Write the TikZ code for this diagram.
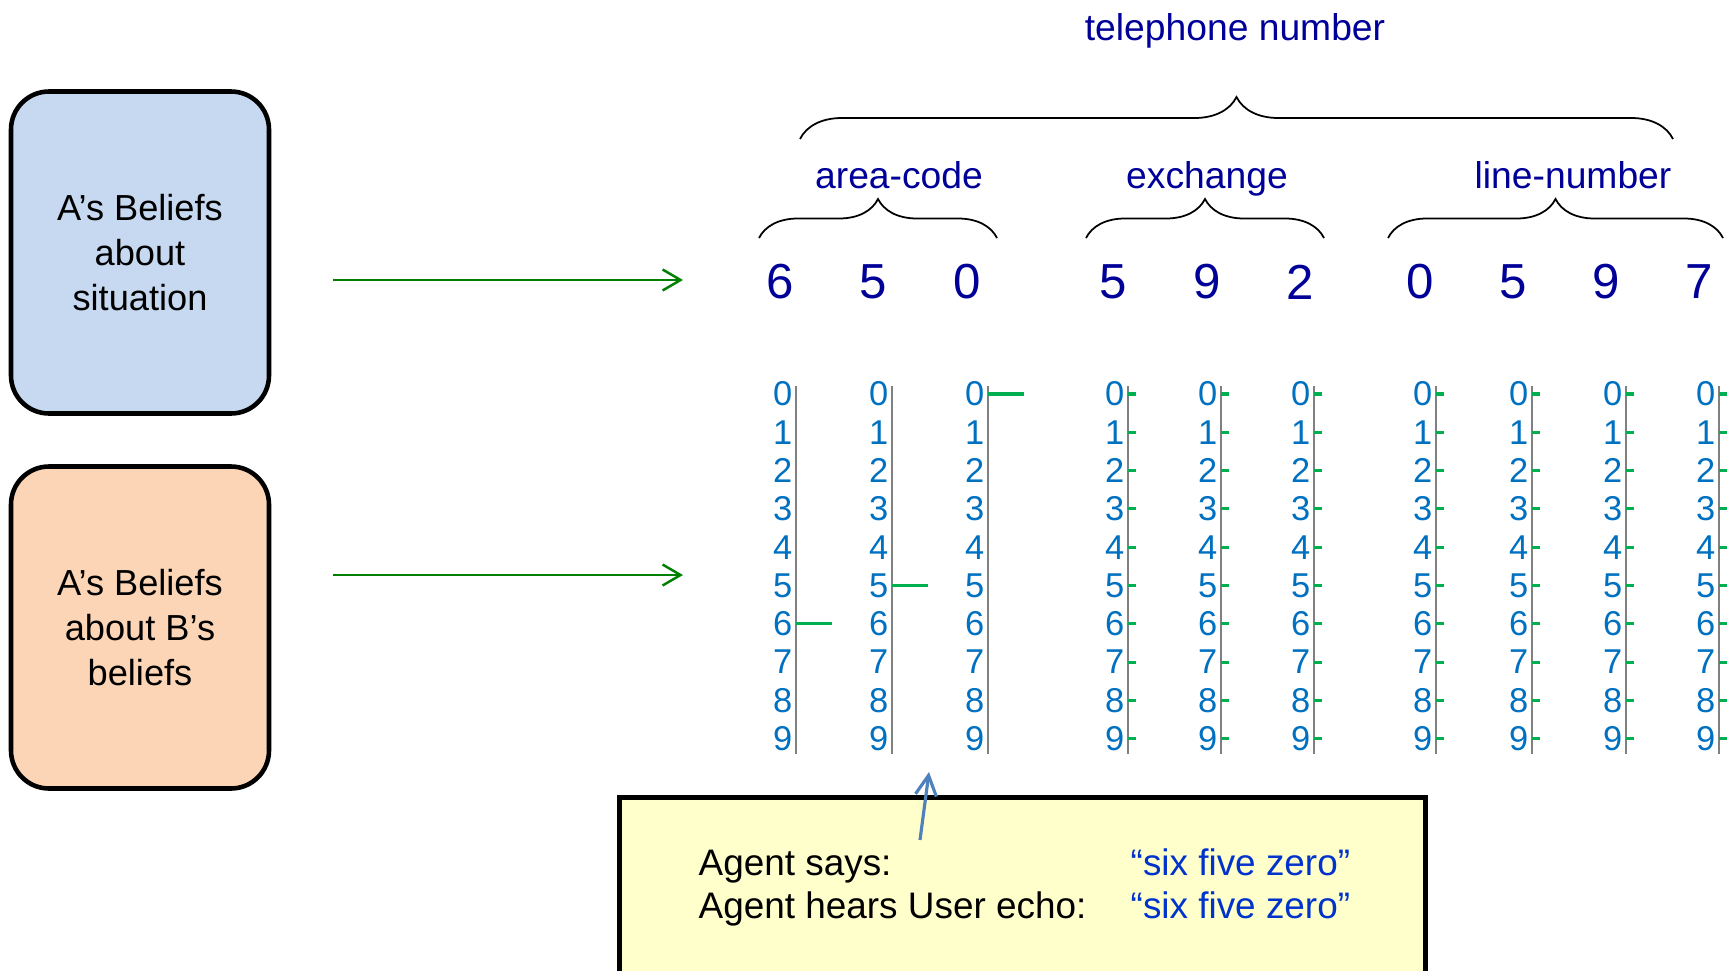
\documentclass[tikz,border=0pt]{standalone}
\usepackage{fontspec}
\setmainfont{Liberation Sans}
\usetikzlibrary{arrows.meta,positioning,decorations.pathreplacing}
\definecolor{sitblue}{RGB}{198,217,240}
\definecolor{peach}{RGB}{251,213,181}
\definecolor{navy}{RGB}{0,0,153}
\definecolor{digitblue}{RGB}{0,112,192}
\definecolor{tickgreen}{RGB}{0,176,80}
\definecolor{arrowgreen}{RGB}{0,128,0}
\definecolor{rulegray}{gray}{0.5}
\definecolor{notefill}{RGB}{255,255,204}
\definecolor{quoteblue}{RGB}{0,51,204}
\definecolor{pointblue}{RGB}{79,129,189}
\tikzset{
  belief/.style={
    rectangle, rounded corners=0.38cm, draw=black, line width=1.3pt,
    minimum width=2.58cm, minimum height=3.22cm,
    align=center, font=\fontsize{10.3}{12.8}\selectfont
  },
  grouplabel/.style={text=navy, font=\fontsize{10.6}{12}\selectfont, inner sep=0pt, anchor=base},
  bigdigit/.style={text=navy, font=\fontsize{14}{16}\selectfont, inner sep=0pt},
  coldigit/.style={text=digitblue, font=\fontsize{9.8}{11}\selectfont, inner sep=0pt, anchor=east},
  digitrule/.style={draw=rulegray, line width=0.6pt},
  pick/.style={draw=tickgreen, line width=0.9pt},
  grouping/.style={decorate, decoration={brace, amplitude=#1}, line width=0.5pt},
  grouping/.default=0.39cm,
  notebox/.style={rectangle, draw=black, fill=notefill, line width=1.4pt},
  notetext/.style={font=\fontsize{10.5}{12}\selectfont, inner sep=0pt, anchor=base west},
  feed/.style={-{Straight Barb[length=1.8mm, width=2.1mm]}, draw=arrowgreen, line width=0.7pt},
  pointer/.style={-{Straight Barb[length=2mm, width=2.1mm]}, draw=pointblue, line width=0.9pt}
}

\begin{document}
\begin{tikzpicture}
  \clip (0,0) rectangle (17.27,-9.70);

  % belief boxes
  \node[belief, fill=sitblue] (situation) at (1.40,-2.525) {A’s Beliefs\\about\\situation};
  \node[belief, fill=peach] (bbeliefs) at (1.40,-6.275) {A’s Beliefs\\about B’s\\beliefs};

  \coordinate (sitfrom) at (3.33,-2.80);
  \coordinate (sitto) at (6.83,-2.80);
  \coordinate (bfrom) at (3.33,-5.75);
  \coordinate (bto) at (6.83,-5.75);
  \draw[feed] (sitfrom) -- (sitto);
  \draw[feed] (bfrom) -- (bto);

  % number and its parts
  \node[grouplabel] (phone) at (12.35,-0.40) {telephone number};
  \draw[grouping=0.42cm] (8.00,-1.39) -- (16.73,-1.39);
  \node[grouplabel] (area) at (8.99,-1.88) {area-code};
  \node[grouplabel] (exch) at (12.07,-1.88) {exchange};
  \node[grouplabel] (line) at (15.73,-1.88) {line-number};
  \draw[grouping] (7.59,-2.38) -- (9.97,-2.38);
  \draw[grouping] (10.86,-2.38) -- (13.24,-2.38);
  \draw[grouping] (13.88,-2.38) -- (17.23,-2.38);

  \foreach \x/\n [count=\i] in {7.80/6, 8.73/5, 9.67/0, 11.13/5, 12.07/9, 13.00/2,
                                14.20/0, 15.13/5, 16.06/9, 16.99/7}
    \node[bigdigit] (top\i) at (\x,-2.82) {\n};

  % digit columns
  \foreach \lx [count=\c] in {7.96,8.92,9.88,11.28,12.21,13.14,14.36,15.32,16.26,17.19} {
    \draw[digitrule] (\lx,-3.86) -- (\lx,-7.54);
    \foreach \d in {0,...,9}
      \node[coldigit] (c\c-\d) at (\lx-0.03,-3.94-0.383*\d) {\d};
  }
  \foreach \lx/\d in {7.96/6, 8.92/5, 9.88/0}
    \draw[pick] (\lx,-3.94-0.383*\d) -- ++(0.36,0);
  \foreach \lx in {11.28,12.21,13.14,14.36,15.32,16.26,17.19}
    \foreach \d in {0,...,9}
      \draw[pick] (\lx,-3.94-0.383*\d) -- ++(0.08,0);

  % what was said
  \node[notebox, anchor=north west, minimum width=8.06cm, minimum height=2.3cm] (echo) at (6.17,-7.95) {};
  \node[notetext] (says) at (6.98,-8.75) {Agent says:};
  \node[notetext, text=quoteblue] (saysq) at (11.30,-8.75) {“six five zero”};
  \node[notetext] (hears) at (6.98,-9.18) {Agent hears User echo:};
  \node[notetext, text=quoteblue] (hearsq) at (11.30,-9.18) {“six five zero”};

  \coordinate (ptfrom) at (9.20,-8.40);
  \coordinate (ptto) at (9.29,-7.72);
  \draw[pointer] (ptfrom) -- (ptto);
\end{tikzpicture}
\end{document}
